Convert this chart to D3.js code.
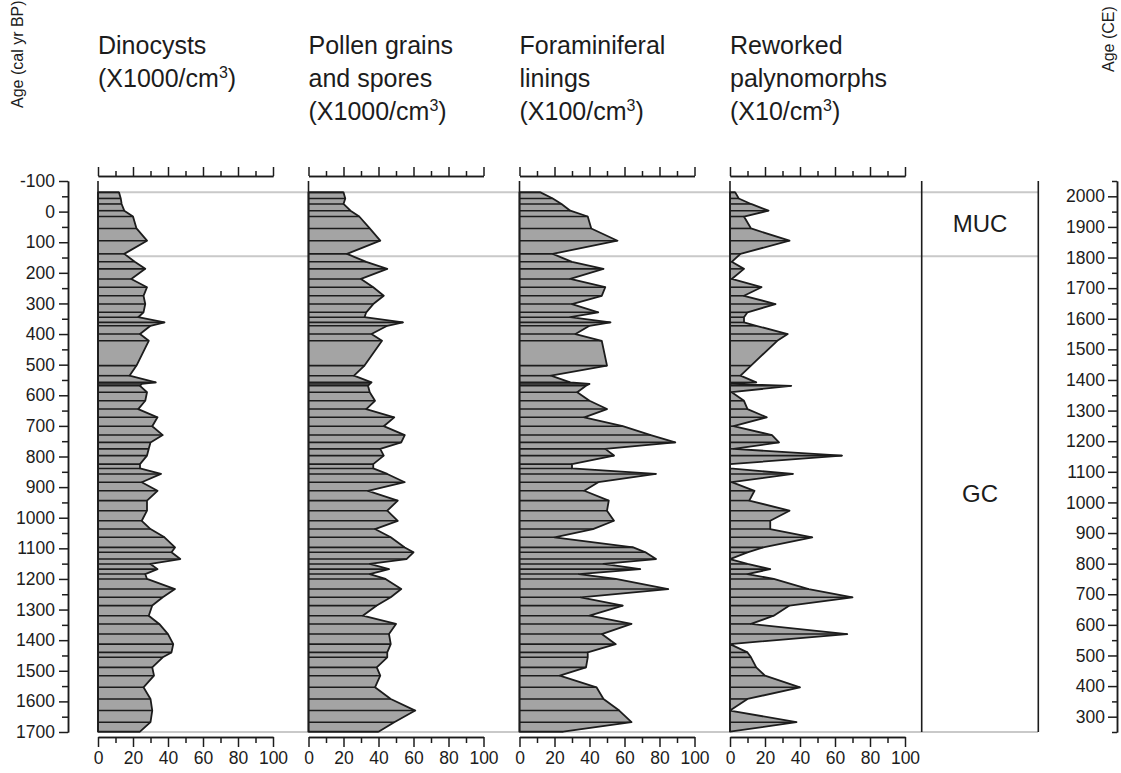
<!DOCTYPE html>
<html>
<head>
<meta charset="utf-8">
<script src="https://cdn.jsdelivr.net/npm/d3@7"></script>
<style>
  body { margin: 0; background: #fff; }
  text { font-family: "Liberation Sans", Arial, sans-serif; fill: #1c1c1c; }
</style>
</head>
<body>
<svg id="chart" width="1121" height="773"></svg>
<script>
// sample ages (cal yr BP), shared by all four records
const ages = [-63, -43, -25, -3, 16, 55, 95, 138, 164, 187, 220, 247, 275, 302, 329, 345, 362, 373, 400, 422,
  503, 536, 558, 563, 569, 590, 618, 645, 672, 701, 730, 754, 775, 797, 825, 839, 857, 884, 912, 944,
  977, 1010, 1037, 1064, 1097, 1113, 1135, 1151, 1168, 1184, 1200, 1233, 1260, 1287, 1320, 1347, 1380, 1413, 1440, 1456,
  1489, 1516, 1554, 1592, 1630, 1668, 1699];

const dinocysts = [12, 13, 13.5, 15, 20, 22, 28, 15, 21, 27, 19, 28, 26, 27, 26, 23, 38, 30, 24, 29,
  22, 18, 33, 25, 24, 28, 27, 23, 34, 31, 37, 30, 29, 28, 24, 24, 36, 25, 34, 28,
  28, 25, 30, 38, 44, 42, 47, 30, 34, 27, 28, 44, 37, 31, 29, 35, 40, 43, 42, 37,
  31, 32, 26, 30, 31, 30, 24];

const pollen = [20, 21, 20, 24, 29, 35, 41, 22, 33, 45, 30, 37, 43, 37, 33, 32, 54, 45, 36, 42,
  32, 26, 36, 35, 34, 35, 38, 33, 49, 43, 55, 53, 41, 43, 37, 37, 45, 55, 34, 51,
  45, 51, 38, 47, 55, 60, 56, 35, 46, 35, 44, 53, 47, 39, 31, 50, 46, 47, 45, 45,
  39, 41, 38, 47, 61, 49, 40];

const foraminifera = [12, 19, 24, 29, 39, 41, 56, 19, 30, 48, 29, 49, 47, 30, 45, 29, 52, 40, 32, 47,
  50, 18, 29, 40, 38, 33, 40, 50, 37, 59, 75, 89, 49, 54, 30, 30, 78, 45, 37, 51,
  50, 54, 42, 20, 65, 72, 78, 48, 69, 34, 55, 85, 35, 59, 40, 64, 47, 55, 39, 39,
  38, 23, 44, 48, 57, 64, 25];

const reworked = [3, 5, 12, 22, 8, 12, 34, 6, 1, 8, 1, 18, 8, 26, 10, 8, 8, 15, 33, 27,
  12, 6, 15, 1, 35, 1, 8, 10, 21, 2, 24, 28, 2, 64, 0, 0, 36, 1, 14, 11,
  34, 23, 23, 47, 19, 10, 0, 10, 23, 10, 25, 45, 70, 34, 25, 12, 67, 0, 10, 12,
  15, 20, 40, 10, 0, 38, 0];

const series = [dinocysts, pollen, foraminifera, reworked];
const titles = [
  ["Dinocysts", "(X1000/cm|3|)"],
  ["Pollen grains", "and spores", "(X1000/cm|3|)"],
  ["Foraminiferal", "linings", "(X100/cm|3|)"],
  ["Reworked", "palynomorphs", "(X10/cm|3|)"]
];

const zoneNames = ["MUC", "GC"];
const zoneBounds = [-63, 146, 1700];

const bpTicks = [-100, 0, 100, 200, 300, 400, 500, 600, 700, 800, 900, 1000, 1100, 1200, 1300, 1400, 1500, 1600, 1700];
const ceTicks = [2000, 1900, 1800, 1700, 1600, 1500, 1400, 1300, 1200, 1100, 1000, 900, 800, 700, 600, 500, 400, 300];
const valueTicks = [0, 20, 40, 60, 80, 100];

const ink = '#1c1c1c';
const svg = d3.select('#chart');
const plain = (d) => String(d);

const y = d3.scaleLinear().domain([-100, 1700]).range([181, 732]);
const yCE = d3.scaleLinear().domain([2050, 250]).range([181, 732]);

const panelLeft = [98, 308.5, 519.5, 730];
const panelWidth = 175;

// grey zone boundaries
svg.append('g')
  .selectAll('line')
  .data(zoneBounds)
  .enter()
  .append('line')
  .attr('x1', 98)
  .attr('x2', 1038)
  .attr('y1', (d) => y(d))
  .attr('y2', (d) => y(d))
  .attr('stroke', '#c9c9c9')
  .attr('stroke-width', 2);

function styleAxis(g) {
  g.attr('font-size', null).attr('font-family', null);
  g.selectAll('.domain').attr('stroke', ink).attr('stroke-width', 1.5);
  g.selectAll('.tick line').attr('stroke', ink).attr('stroke-width', 1.5);
  g.selectAll('.tick text').attr('fill', ink).style('font-size', '17.5px');
}

series.forEach((vals, i) => {
  const x = d3.scaleLinear().domain([0, 100]).range([panelLeft[i], panelLeft[i] + panelWidth]);
  const data = ages.map((a, k) => ({ age: a, v: vals[k] }));
  const g = svg.append('g');

  // title
  const t = g.append('text').attr('x', panelLeft[i]).attr('y', 54).style('font-size', '25px');
  titles[i].forEach((line, k) => {
    const parts = line.split('|');
    t.append('tspan').attr('x', panelLeft[i]).attr('y', 54 + k * 33).text(parts[0]);
    if (parts.length > 1) {
      t.append('tspan').attr('dy', -9).style('font-size', '16px').text(parts[1]);
      t.append('tspan').attr('dy', 9).text(parts[2]);
    }
  });

  // top scale
  g.append('g')
    .attr('transform', 'translate(0,176)')
    .call(d3.axisTop(x).tickValues(valueTicks).tickSize(9).tickSizeOuter(0).tickFormat(''))
    .call(styleAxis);
  g.append('g')
    .attr('transform', 'translate(0,176)')
    .call(d3.axisTop(x).tickValues([10, 30, 50, 70, 90]).tickSize(5).tickSizeOuter(0).tickFormat(''))
    .call(styleAxis);

  // bottom scale
  g.append('g')
    .attr('transform', 'translate(0,737)')
    .call(d3.axisBottom(x).tickValues(valueTicks).tickSize(10).tickSizeOuter(0).tickPadding(5).tickFormat(plain))
    .call(styleAxis);
  g.append('g')
    .attr('transform', 'translate(0,737)')
    .call(d3.axisBottom(x).tickValues([10, 30, 50, 70, 90]).tickSize(6).tickSizeOuter(0).tickFormat(''))
    .call(styleAxis);

  // area
  const area = d3.area()
    .x0(x(0))
    .x1((d) => x(d.v))
    .y((d) => y(d.age));
  g.append('path')
    .datum(data)
    .attr('d', area)
    .attr('fill', '#a4a4a4')
    .attr('stroke', ink)
    .attr('stroke-width', 1.8)
    .attr('stroke-linejoin', 'round');

  // sample bars
  g.append('g')
    .selectAll('line')
    .data(data)
    .enter()
    .append('line')
    .attr('x1', x(0))
    .attr('x2', (d) => x(d.v))
    .attr('y1', (d) => y(d.age))
    .attr('y2', (d) => y(d.age))
    .attr('stroke', ink)
    .attr('stroke-width', 1.6);

  // zero line
  g.append('line')
    .attr('x1', x(0)).attr('x2', x(0))
    .attr('y1', y(-100)).attr('y2', y(1700))
    .attr('stroke', ink)
    .attr('stroke-width', 1.6);
});

// left age axis (cal yr BP)
svg.append('g')
  .attr('transform', 'translate(68,0)')
  .call(d3.axisLeft(y).tickValues(bpTicks).tickSize(9).tickSizeOuter(0).tickPadding(4).tickFormat(plain))
  .call(styleAxis);
svg.append('g')
  .attr('transform', 'translate(68,0)')
  .call(d3.axisLeft(y).tickValues(d3.range(-50, 1700, 100)).tickSize(6).tickSizeOuter(0).tickFormat(''))
  .call(styleAxis);

svg.append('text')
  .attr('transform', 'translate(23,108) rotate(-90)')
  .style('font-size', '16px')
  .text('Age (cal yr BP)');

// zone column
svg.append('g')
  .selectAll('line')
  .data([921.7, 1038.3])
  .enter()
  .append('line')
  .attr('x1', (d) => d).attr('x2', (d) => d)
  .attr('y1', y(-100)).attr('y2', y(1700))
  .attr('stroke', ink)
  .attr('stroke-width', 1.6);

svg.append('g')
  .selectAll('text')
  .data(zoneNames)
  .enter()
  .append('text')
  .attr('x', 980)
  .attr('y', (d, i) => (y(zoneBounds[i]) + y(zoneBounds[i + 1])) / 2 + 8)
  .attr('text-anchor', 'middle')
  .style('font-size', '24px')
  .text((d) => d);

// right age axis (CE)
svg.append('g')
  .attr('transform', 'translate(1117,0)')
  .call(d3.axisLeft(yCE).tickValues(ceTicks).tickSize(9).tickSizeOuter(0).tickPadding(3).tickFormat(plain))
  .call(styleAxis);
svg.append('g')
  .attr('transform', 'translate(1117,0)')
  .call(d3.axisLeft(yCE).tickValues(d3.range(2050, 249, -100)).tickSize(5).tickSizeOuter(0).tickFormat(''))
  .call(styleAxis);

svg.append('text')
  .attr('transform', 'translate(1114,72) rotate(-90)')
  .style('font-size', '16px')
  .text('Age (CE)');
</script>
</body>
</html>
